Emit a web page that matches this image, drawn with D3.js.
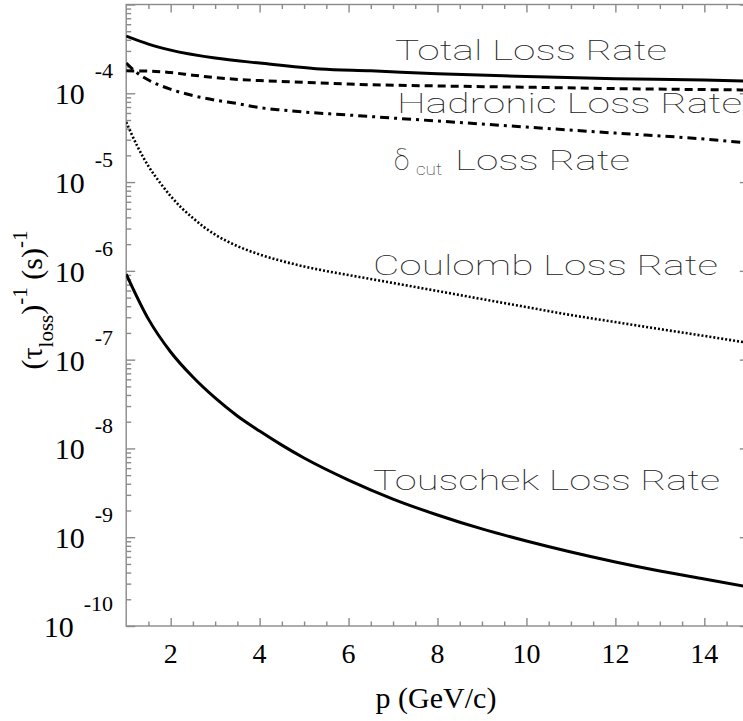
<!DOCTYPE html>
<html>
<head>
<meta charset="utf-8">
<script src="https://cdn.jsdelivr.net/npm/d3@7"></script>
<style>
  html, body { margin: 0; padding: 0; background: #fff; }
  svg { display: block; }
</style>
</head>
<body>
<svg id="chart" width="743" height="721"></svg>
<script>
// Loss rates vs momentum.
const totalP    = [1, 1.5, 2, 3, 4, 5.36, 6.5, 8, 10, 12, 14, 15];
const totalRate = [4.41e-4, 3.58e-4, 3.06e-4, 2.49e-4, 2.19e-4, 1.88e-4, 1.79e-4, 1.66e-4, 1.55e-4, 1.46e-4, 1.41e-4, 1.37e-4];

const hadronicP    = [1, 1.5, 2, 2.5, 3, 4, 5, 6, 8, 10, 12, 14, 15];
const hadronicRate = [1.79e-4, 1.78e-4, 1.71e-4, 1.60e-4, 1.50e-4, 1.39e-4, 1.33e-4, 1.27e-4, 1.21e-4, 1.17e-4, 1.13e-4, 1.10e-4, 1.09e-4];

const deltaP    = [1, 1.25, 1.5, 2, 2.5, 3, 3.5, 4, 4.5, 5, 6, 7, 8, 10, 12, 14, 15];
const deltaRate = [2.19e-4, 1.69e-4, 1.41e-4, 1.11e-4, 9.42e-5, 8.37e-5, 7.66e-5, 6.90e-5, 6.47e-5, 6.14e-5, 5.69e-5, 5.26e-5, 4.87e-5, 4.16e-5, 3.56e-5, 3.05e-5, 2.75e-5];

const coulombP    = [1, 1.25, 1.5, 1.75, 2, 2.25, 2.5, 2.75, 3, 3.5, 4, 4.5, 5, 5.5, 6, 7, 8, 9, 10, 11, 12, 13, 14, 15];
const coulombRate = [4.74e-5, 2.54e-5, 1.51e-5, 1.00e-5, 6.95e-6, 5.09e-6, 3.94e-6, 3.11e-6, 2.56e-6, 1.90e-6, 1.53e-6, 1.29e-6, 1.12e-6, 9.95e-7, 8.97e-7, 7.30e-7, 5.93e-7, 4.81e-7, 3.91e-7, 3.18e-7, 2.65e-7, 2.21e-7, 1.85e-7, 1.54e-7];

const touschekP    = [1, 1.5, 2, 2.5, 3, 3.5, 4, 4.5, 5, 6, 7, 8, 9, 10, 11, 12, 13, 14, 15];
const touschekRate = [9.2e-7, 2.86e-7, 1.22e-7, 6.37e-8, 3.70e-8, 2.32e-8, 1.57e-8, 1.09e-8, 7.80e-9, 4.40e-9, 2.69e-9, 1.78e-9, 1.24e-9, 9.06e-10, 6.81e-10, 5.26e-10, 4.16e-10, 3.38e-10, 2.75e-10];

const xMajorTicks = [2, 4, 6, 8, 10, 12, 14];
const yExponents  = [-10, -9, -8, -7, -6, -5, -4];

const seriesLabels = ['Total Loss Rate', 'Hadronic Loss Rate', 'Loss Rate', 'Coulomb Loss Rate', 'Touschek Loss Rate'];

// ------------------------------------------------------------------
// Layout
// ------------------------------------------------------------------
const M = { left: 126.2, right: 748.8, top: 4.5, bottom: 626 };
const svg = d3.select('#chart');
const AXIS = '#8a8a8a';
const SERIF = '"Liberation Serif", "Times New Roman", serif';
const THIN = 'Roboto, "DejaVu Sans", sans-serif';

const x = d3.scaleLinear().domain([1, 15]).range([M.left, M.right]);
const y = d3.scaleLog().domain([1e-10, 1e-3]).range([M.bottom, M.top]);

svg.append('defs').append('clipPath').attr('id', 'plot')
  .append('rect').attr('x', M.left).attr('y', M.top)
  .attr('width', M.right - M.left).attr('height', M.bottom - M.top);

// Minor and major ticks, all pointing inwards on the four sides.
const xMinor = d3.range(1.5, 15, 0.5).filter(v => !xMajorTicks.includes(v));
const yMajor = d3.range(-10, -2).map(e => Math.pow(10, e));
const yMinor = [];
yMajor.slice(0, -1).forEach(d => { for (let k = 2; k <= 9; k++) yMinor.push(d * k); });

const axisG = svg.append('g').attr('stroke', AXIS).attr('stroke-width', 1.4);

function tickSet(gen, scale, values, size, transform) {
  axisG.append('g')
    .attr('transform', transform)
    .call(gen(scale).tickValues(values).tickSize(size).tickFormat(''))
    .call(g => g.select('.domain').remove())
    .selectAll('line').attr('stroke', AXIS).attr('stroke-width', 1.4);
}

tickSet(d3.axisBottom, x, xMajorTicks, -8, `translate(0,${M.bottom})`);
tickSet(d3.axisBottom, x, xMinor, -4.5, `translate(0,${M.bottom})`);
tickSet(d3.axisTop, x, xMajorTicks, -8, `translate(0,${M.top})`);
tickSet(d3.axisTop, x, xMinor, -4.5, `translate(0,${M.top})`);
tickSet(d3.axisLeft, y, yMajor, -9, `translate(${M.left},0)`);
tickSet(d3.axisLeft, y, yMinor, -5, `translate(${M.left},0)`);
tickSet(d3.axisRight, y, yMajor, -9, `translate(${M.right},0)`);
tickSet(d3.axisRight, y, yMinor, -5, `translate(${M.right},0)`);

axisG.append('rect')
  .attr('x', M.left).attr('y', M.top)
  .attr('width', M.right - M.left).attr('height', M.bottom - M.top)
  .attr('fill', 'none');

// X tick labels.
svg.append('g').selectAll('text')
  .data(xMajorTicks)
  .join('text')
  .attr('x', d => x(d))
  .attr('y', 663)
  .attr('text-anchor', 'middle')
  .attr('font-family', SERIF)
  .attr('font-size', 28)
  .text(d => d);

// Y tick labels: 10 with a raised exponent.
const yLab = svg.append('g').selectAll('text')
  .data(yExponents)
  .join('text')
  .attr('x', 113)
  .attr('y', d => y(Math.pow(10, d)) + 11)
  .attr('text-anchor', 'end')
  .attr('font-family', SERIF);
yLab.append('tspan').attr('font-size', 30).text('10');
yLab.append('tspan').attr('font-size', 22).attr('dx', 10).attr('dy', -26).text(d => d);

// Axis titles.
svg.append('text')
  .attr('x', 436).attr('y', 708)
  .attr('text-anchor', 'middle')
  .attr('font-family', SERIF)
  .attr('font-size', 30)
  .text('p (GeV/c)');

const yTitle = svg.append('text')
  .attr('transform', 'translate(42,300) rotate(-90)')
  .attr('text-anchor', 'middle')
  .attr('font-family', SERIF)
  .attr('font-size', 30);
yTitle.append('tspan').text('(τ');
yTitle.append('tspan').attr('font-size', 21).attr('dy', 11).text('loss');
yTitle.append('tspan').attr('dy', -11).text(')');
yTitle.append('tspan').attr('font-size', 21).attr('dy', -15).text('-1');
yTitle.append('tspan').attr('dy', 15).text(' (s)');
yTitle.append('tspan').attr('font-size', 21).attr('dy', -15).text('-1');

// ------------------------------------------------------------------
// Curves
// ------------------------------------------------------------------
const line = d3.line()
  .x(d => x(d[0]))
  .y(d => y(d[1]))
  .curve(d3.curveMonotoneX);

const curves = [
  { p: totalP,    r: totalRate,    width: 3,   dash: null },
  { p: hadronicP, r: hadronicRate, width: 3,   dash: '8,5' },
  { p: deltaP,    r: deltaRate,    width: 3,   dash: '9,5,3,5' },
  { p: coulombP,  r: coulombRate,  width: 2.6, dash: '2,2' },
  { p: touschekP, r: touschekRate, width: 3,   dash: null },
];

const plot = svg.append('g').attr('clip-path', 'url(#plot)');
curves.forEach(c => {
  plot.append('path')
    .datum(d3.zip(c.p, c.r))
    .attr('fill', 'none')
    .attr('stroke', '#000')
    .attr('stroke-width', c.width)
    .attr('stroke-dasharray', c.dash)
    .attr('d', line);
});

// Curve labels in a thin sans face.
const labelPos = [
  { x: 395, y: 60,  w: 272 },
  { x: 397, y: 113, w: 345 },
  { x: 455, y: 170, w: 175 },
  { x: 373, y: 275, w: 345 },
  { x: 373, y: 490, w: 347 },
];
const labG = svg.append('g')
  .attr('font-family', THIN)
  .attr('font-weight', 100)
  .attr('fill', '#222');

seriesLabels.forEach((t, i) => {
  labG.append('text')
    .attr('x', labelPos[i].x).attr('y', labelPos[i].y)
    .attr('font-size', 28)
    .attr('textLength', labelPos[i].w)
    .attr('lengthAdjust', 'spacingAndGlyphs')
    .text(t);
});

// delta with "cut" subscript in front of the third label.
labG.append('text')
  .attr('x', 394).attr('y', 170)
  .attr('font-size', 28)
  .text('δ');
labG.append('text')
  .attr('x', 416).attr('y', 175)
  .attr('font-size', 17)
  .attr('textLength', 26)
  .attr('lengthAdjust', 'spacingAndGlyphs')
  .text('cut');
</script>
</body>
</html>
